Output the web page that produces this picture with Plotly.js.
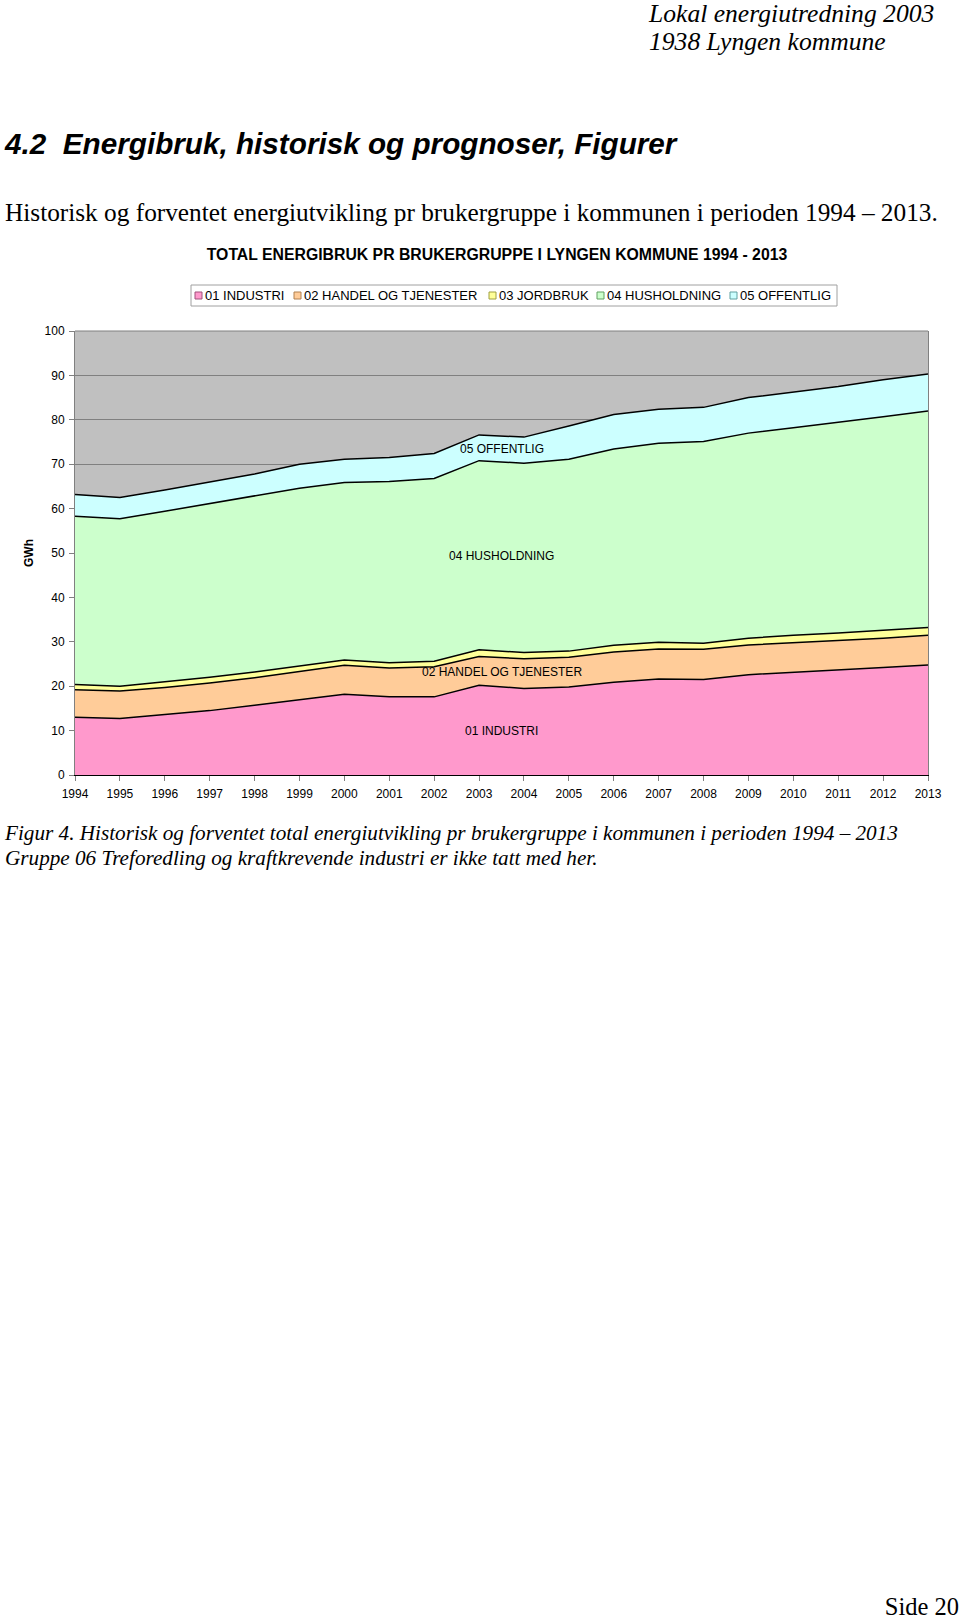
<!DOCTYPE html>
<html>
<head>
<meta charset="utf-8">
<script src="https://cdn.plot.ly/plotly-3.0.1.min.js"></script>
<style>
  body { margin: 0; background: white; }
  #page { position: relative; width: 960px; height: 1620px; overflow: hidden; }
  .txt { position: absolute; white-space: pre; color: black; }
  .serif { font-family: "Liberation Serif", "Times New Roman", serif; }
  .sans { font-family: "Liberation Sans", Arial, sans-serif; }
</style>
</head>
<body>
<div id="page">
  <div class="txt serif" style="left:649px;top:0px;font-size:25.6px;line-height:28px;font-style:italic">Lokal energiutredning 2003</div>
  <div class="txt serif" style="left:649px;top:28px;font-size:25.6px;line-height:28px;font-style:italic">1938 Lyngen kommune</div>
  <div class="txt sans" style="left:5px;top:127px;font-size:29.7px;line-height:34px;font-style:italic;font-weight:bold">4.2  Energibruk, historisk og prognoser, Figurer</div>
  <div class="txt serif" style="left:5px;top:197px;font-size:25.3px;line-height:30px">Historisk og forventet energiutvikling pr brukergruppe i kommunen i perioden 1994 – 2013.</div>
  <div id="chart" style="position:absolute;left:0;top:230px;width:960px;height:590px"></div>
  <div class="txt serif" style="left:5px;top:820px;font-size:21.2px;line-height:26px;font-style:italic">Figur 4. Historisk og forventet total energiutvikling pr brukergruppe i kommunen i perioden 1994 – 2013</div>
  <div class="txt serif" style="left:5px;top:845px;font-size:21.2px;line-height:26px;font-style:italic">Gruppe 06 Treforedling og kraftkrevende industri er ikke tatt med her.</div>
  <div class="txt serif" style="right:1px;top:1596px;font-size:24.5px;line-height:22px">Side 20</div>
</div>

<script>
// years on the x axis
var years = [1994,1995,1996,1997,1998,1999,2000,2001,2002,2003,
             2004,2005,2006,2007,2008,2009,2010,2011,2012,2013]

// GWh per user group
var industri     = [13.0,12.7,13.6,14.5,15.7,16.9,18.2,17.6,17.6,20.2,19.5,19.8,20.9,21.6,21.5,22.6,23.1,23.6,24.2,24.8]
var handel       = [6.2,6.2,6.1,6.2,6.2,6.4,6.5,6.5,6.8,6.5,6.7,6.7,6.8,6.8,6.8,6.7,6.7,6.7,6.6,6.7]
var jordbruk     = [1.2,1.1,1.3,1.3,1.3,1.2,1.2,1.2,1.2,1.5,1.4,1.4,1.5,1.5,1.4,1.5,1.7,1.7,1.8,1.7]
var husholdning  = [37.9,37.7,38.4,39.1,39.7,40.1,40.0,40.8,41.2,42.6,42.6,43.2,44.2,44.8,45.4,46.2,46.7,47.4,48.1,48.8]
var offentlig    = [4.9,4.8,4.8,4.9,4.9,5.4,5.2,5.4,5.6,5.8,5.9,7.5,7.8,7.7,7.7,8.0,8.1,8.1,8.3,8.3]

var names  = ['01 INDUSTRI','02 HANDEL OG TJENESTER','03 JORDBRUK','04 HUSHOLDNING','05 OFFENTLIG']
var series = [industri, handel, jordbruk, husholdning, offentlig]
var colors = ['#FF99CC','#FFCC99','#FFFF99','#CCFFCC','#CCFFFF']
var edge   = ['#A0507A','#B08050','#A0A040','#60A060','#60A0A0']

// in-chart labels: text, year, GWh
var labelText = ['05 OFFENTLIG','04 HUSHOLDNING','02 HANDEL OG TJENESTER','01 INDUSTRI']
var labelYear = [2003.5, 2003.5, 2003.5, 2003.5]
var labelVal  = [73.5, 49.3, 23.3, 10.0]

var font_sans = '"Liberation Sans", Arial, sans-serif'

// page pixel -> paper coords of the plot area (plot area spans x 75..928, y 331..775)
function px2x(px){ return (px-75)/853 }
function px2y(py){ return (775-py)/444 }

var traces = []
for (i=0; i<series.length; i++){
  traces.push({
    x: years,
    y: series[i],
    name: names[i],
    type: 'scatter',
    mode: 'lines',
    stackgroup: 'one',
    line: {color: 'black', width: 1.5},
    fillcolor: colors[i],
    showlegend: false,
    hoverinfo: 'skip'
  })
}

var annotations = []
var shapes = []
for (i=0; i<labelText.length; i++){
  annotations.push({
    x: labelYear[i], y: labelVal[i], xref: 'x', yref: 'y',
    text: labelText[i], showarrow: false,
    font: {family: font_sans, size: 12, color: 'black'}
  })
}

// y axis title
annotations.push({
  x: px2x(29), y: 50, xref: 'paper', yref: 'y',
  xanchor: 'center', yanchor: 'middle',
  text: '<b>GWh</b>', textangle: -90, showarrow: false,
  font: {family: font_sans, size: 12, color: 'black'}
})

// legend box, drawn by hand to get the compact Excel look
var legendSwatchX = [195, 294, 489, 597, 730]
shapes.push({type: 'rect', xref: 'paper', yref: 'paper',
  x0: px2x(191), x1: px2x(837), y0: px2y(306), y1: px2y(285),
  fillcolor: 'white', line: {color: '#A0A0A0', width: 1}, layer: 'above'})
for (i=0; i<names.length; i++){
  var sx = legendSwatchX[i]
  shapes.push({type: 'rect', xref: 'paper', yref: 'paper',
    x0: px2x(sx), x1: px2x(sx+7), y0: px2y(299), y1: px2y(292),
    fillcolor: colors[i], line: {color: edge[i], width: 1}, layer: 'above'})
  annotations.push({
    x: px2x(sx+8), y: px2y(295.5), xref: 'paper', yref: 'paper',
    xanchor: 'left', yanchor: 'middle',
    text: names[i], showarrow: false,
    font: {family: font_sans, size: 13, color: 'black'}
  })
}

// top border of the plot area
shapes.push({type: 'line', xref: 'paper', yref: 'paper', x0: 0, x1: 1, y0: 1, y1: 1,
  line: {color: '#808080', width: 1}})

var layout = {
  width: 960,
  height: 590,
  margin: {l: 75, r: 32, t: 101, b: 45, pad: 0},
  paper_bgcolor: 'rgba(0,0,0,0)',
  plot_bgcolor: '#C0C0C0',
  font: {family: font_sans, size: 12, color: 'black'},
  title: {
    text: '<b>TOTAL ENERGIBRUK PR BRUKERGRUPPE I LYNGEN KOMMUNE 1994 - 2013</b>',
    font: {family: font_sans, size: 15.8, color: 'black'},
    x: px2x(497), xref: 'paper', xanchor: 'center',
    y: 1 - 24/590, yref: 'container', yanchor: 'middle'
  },
  showlegend: false,
  xaxis: {
    range: [1994, 2013],
    dtick: 1,
    tick0: 1994,
    showgrid: false,
    zeroline: false,
    showline: true,
    linecolor: 'black',
    linewidth: 1,
    ticks: 'outside',
    ticklen: 5,
    tickcolor: '#808080',
    ticklabelstandoff: 3,
    tickfont: {family: font_sans, size: 12, color: 'black'},
    fixedrange: true
  },
  yaxis: {
    range: [0, 100],
    dtick: 10,
    showgrid: true,
    gridcolor: '#808080',
    gridwidth: 1,
    zeroline: false,
    showline: true,
    mirror: true,
    linecolor: '#808080',
    linewidth: 1,
    ticks: 'outside',
    ticklen: 5,
    tickcolor: '#808080',
    ticklabelstandoff: 2,
    tickfont: {family: font_sans, size: 12, color: 'black'},
    fixedrange: true
  },
  shapes: shapes,
  annotations: annotations
}

Plotly.newPlot('chart', traces, layout, {displayModeBar: false, staticPlot: true})
</script>
</body>
</html>
